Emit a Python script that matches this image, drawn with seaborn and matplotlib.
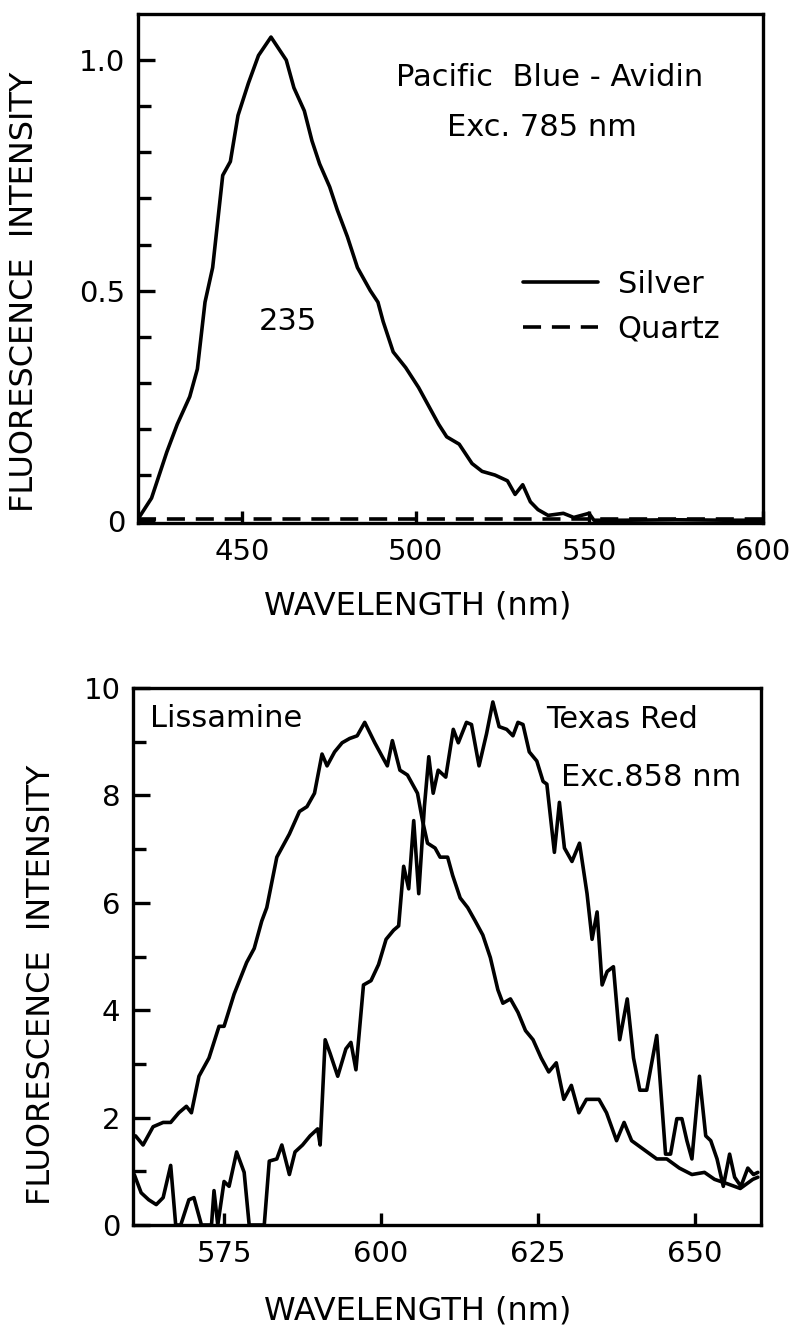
import numpy as np
import pandas as pd
import matplotlib
matplotlib.use("Agg")
import matplotlib.pyplot as plt
import seaborn as sns
from matplotlib.ticker import FixedLocator

# ---------------- data ----------------
pb_wavelength = [420.3, 423.9, 428.3, 431.3, 434.9, 437.1, 439.3, 441.5, 444.4, 446.6,
                 448.8, 451.8, 454.7, 458.3, 460.5, 462.7, 464.9, 467.9, 470.1, 472.3,
                 475.2, 477.4, 480.3, 483.2, 486.9, 489.1, 490.6, 493.5, 497.1, 500.8,
                 503.7, 506.6, 508.9, 512.5, 516.2, 519.1, 522.8, 526.4, 528.6, 530.8,
                 533.0, 535.2, 538.1, 542.5, 545.5, 549.9, 551.3, 560.0, 575.0, 590.0, 600.0]
pb_silver = [0.008, 0.05, 0.15, 0.21, 0.27, 0.33, 0.475, 0.55, 0.75, 0.78,
             0.88, 0.95, 1.01, 1.05, 1.025, 1.0, 0.94, 0.89, 0.825, 0.775,
             0.725, 0.675, 0.617, 0.55, 0.50, 0.475, 0.433, 0.367, 0.333, 0.29,
             0.25, 0.21, 0.183, 0.167, 0.125, 0.108, 0.10, 0.0875, 0.058, 0.079,
             0.042, 0.025, 0.0125, 0.017, 0.008, 0.017, 0.002, 0.002, 0.003, 0.002, 0.002]
quartz_wavelength = [420, 450, 500, 550, 600]
pb_quartz = [0.004, 0.004, 0.004, 0.004, 0.004]

liss_wavelength = [560.9, 562.1, 563.7, 565.3, 566.5, 567.8, 569.0, 569.8, 571.0, 572.6,
                   574.2, 575.0, 576.6, 578.6, 579.8, 581.0, 581.8, 583.4, 585.4, 587.0,
                   588.2, 589.4, 590.6, 591.4, 592.6, 593.8, 595.0, 596.2, 597.4, 599.0,
                   600.2, 601.0, 601.8, 603.0, 604.2, 605.0, 605.8, 606.6, 607.4, 608.6,
                   609.4, 610.6, 611.4, 612.6, 613.8, 615.0, 616.2, 617.4, 618.6, 619.4,
                   620.6, 621.8, 623.0, 624.2, 625.5, 626.7, 627.9, 629.1, 630.3, 631.5,
                   632.7, 634.7, 635.9, 637.5, 638.7, 639.9, 641.9, 643.9, 645.5, 647.5,
                   649.5, 651.5, 653.1, 655.1, 657.2, 659.2, 660.0]
liss_intensity = [1.66, 1.49, 1.83, 1.91, 1.91, 2.09, 2.21, 2.09, 2.77, 3.11,
                  3.70, 3.70, 4.30, 4.89, 5.15, 5.66, 5.91, 6.85, 7.28, 7.70,
                  7.79, 8.04, 8.77, 8.55, 8.81, 8.98, 9.06, 9.11, 9.36, 8.98,
                  8.72, 8.55, 9.02, 8.47, 8.38, 8.21, 8.04, 7.53, 7.11, 7.02,
                  6.85, 6.85, 6.51, 6.09, 5.91, 5.66, 5.40, 4.98, 4.38, 4.13,
                  4.21, 3.96, 3.62, 3.45, 3.11, 2.85, 3.02, 2.34, 2.60, 2.09,
                  2.34, 2.34, 2.09, 1.57, 1.91, 1.57, 1.40, 1.23, 1.23, 1.06,
                  0.94, 0.98, 0.85, 0.77, 0.68, 0.85, 0.89]

tr_wavelength = [560.7, 561.8, 563.0, 564.2, 565.3, 566.5, 567.3, 568.1, 569.4, 570.2,
                 571.4, 573.0, 573.4, 574.0, 575.0, 575.8, 577.0, 578.2, 579.0, 581.4,
                 582.2, 583.4, 584.2, 585.4, 586.3, 587.5, 588.7, 589.9, 590.3, 591.1,
                 591.9, 593.1, 594.4, 595.2, 596.0, 597.2, 598.4, 599.6, 600.8, 602.0,
                 602.8, 603.6, 604.4, 605.2, 606.0, 606.9, 607.6, 608.3, 609.1, 610.3,
                 611.5, 612.3, 613.6, 614.4, 615.6, 616.8, 617.8, 618.8, 620.0, 621.0,
                 621.8, 622.6, 623.6, 624.8, 625.8, 626.4, 627.6, 628.4, 629.2, 630.4,
                 631.6, 632.8, 633.6, 634.4, 635.2, 636.0, 637.0, 638.0, 639.2, 640.2,
                 641.2, 642.3, 643.9, 645.3, 646.1, 647.1, 647.9, 648.7, 649.5, 650.7,
                 651.7, 652.5, 653.5, 654.5, 655.5, 656.3, 657.3, 658.4, 659.3, 660.0]
tr_intensity = [0.94, 0.60, 0.47, 0.38, 0.51, 1.11, 0.0, 0.0, 0.47, 0.51,
                0.0, 0.0, 0.64, 0.0, 0.81, 0.72, 1.36, 0.98, 0.0, 0.0,
                1.19, 1.23, 1.49, 0.94, 1.36, 1.49, 1.66, 1.79, 1.49, 3.45,
                3.19, 2.77, 3.28, 3.40, 2.89, 4.47, 4.55, 4.85, 5.32, 5.49,
                5.57, 6.68, 6.26, 7.53, 6.17, 7.79, 8.72, 8.04, 8.47, 8.34,
                9.23, 8.98, 9.36, 9.32, 8.55, 9.15, 9.74, 9.28, 9.23, 9.11,
                9.36, 9.32, 8.81, 8.64, 8.26, 8.21, 6.94, 7.87, 7.02, 6.77,
                7.11, 6.17, 5.32, 5.83, 4.47, 4.72, 4.81, 3.45, 4.21, 3.11,
                2.51, 2.51, 3.53, 1.32, 1.32, 1.98, 1.98, 1.57, 1.23, 2.77,
                1.66, 1.57, 1.23, 0.72, 1.32, 0.89, 0.72, 1.06, 0.94, 0.98]

top_xticks = [450, 500, 550, 600]
top_yticks = [0, 0.5, 1.0]
top_yticklabels = ["0", "0.5", "1.0"]
bot_xticks = [575, 600, 625, 650]
bot_yticks = [0, 2, 4, 6, 8, 10]

# ---------------- figure ----------------
sns.set_theme(style="ticks")
plt.rcParams['font.family'] = ['DejaVu Sans']
plt.rcParams['axes.edgecolor'] = 'black'
plt.rcParams['axes.labelcolor'] = 'black'
plt.rcParams['text.color'] = 'black'
plt.rcParams['xtick.color'] = 'black'
plt.rcParams['ytick.color'] = 'black'

W, H = 796, 1336
fig = plt.figure(figsize=(W / 100, H / 100), dpi=100)

def fx(px):
    return px / W

def fy(py):
    return 1 - py / H

ax1 = fig.add_axes([fx(138), fy(523), (763 - 138) / W, (523 - 14) / H])
ax2 = fig.add_axes([fx(133), fy(1225), (761 - 133) / W, (1225 - 688) / H])

LW = 2.6
SLW = 2.4
df_silver = pd.DataFrame({"wl": pb_wavelength, "I": pb_silver})
df_quartz = pd.DataFrame({"wl": quartz_wavelength, "I": pb_quartz})
sns.lineplot(data=df_silver, x="wl", y="I", ax=ax1, color="black", lw=LW,
             estimator=None, label="Silver")
sns.lineplot(data=df_quartz, x="wl", y="I", ax=ax1, color="black", lw=LW,
             estimator=None, label="Quartz", linestyle=(0, (5, 3)))

df_liss = pd.DataFrame({"wl": liss_wavelength, "I": liss_intensity})
df_tr = pd.DataFrame({"wl": tr_wavelength, "I": tr_intensity})
sns.lineplot(data=df_liss, x="wl", y="I", ax=ax2, color="black", lw=LW, estimator=None)
sns.lineplot(data=df_tr, x="wl", y="I", ax=ax2, color="black", lw=LW, estimator=None)

for ax in (ax1, ax2):
    for s in ax.spines.values():
        s.set_linewidth(SLW)
        s.set_color("black")
    ax.tick_params(axis="both", which="both", direction="in", width=SLW,
                   top=False, right=False, labelsize=21)
    ax.tick_params(axis="y", which="major", length=12, pad=9)
    ax.tick_params(axis="y", which="minor", length=9)
    ax.tick_params(axis="x", which="major", length=9, pad=11)
    ax.grid(False)

ax1.set_xlim(420, 600)
ax1.set_ylim(-0.004, 1.1)
ax1.set_xticks(top_xticks)
ax1.set_yticks(top_yticks)
ax1.set_yticklabels(top_yticklabels)
ax1.yaxis.set_minor_locator(FixedLocator([0.1, 0.2, 0.3, 0.4, 0.6, 0.7, 0.8, 0.9]))

ax2.set_xlim(560.5, 660.5)
ax2.set_ylim(0, 10)
ax2.set_xticks(bot_xticks)
ax2.set_yticks(bot_yticks)
ax2.yaxis.set_minor_locator(FixedLocator([1, 3, 5, 7, 9]))

label_kw = dict(fontsize=23, color="black")
ax1.set_xlabel("WAVELENGTH (nm)", **label_kw)
ax1.set_ylabel("FLUORESCENCE  INTENSITY", **label_kw)
ax2.set_xlabel("WAVELENGTH (nm)", **label_kw)
ax2.set_ylabel("FLUORESCENCE  INTENSITY", **label_kw)
ax1.yaxis.set_label_coords((40 - 138) / 625, (523 - 292) / 509)
ax1.xaxis.set_label_coords((418 - 138) / 625, (523 - 590) / 509)
ax2.yaxis.set_label_coords((57 - 133) / 628, (1225 - 985) / 537)
ax2.xaxis.set_label_coords((418 - 133) / 628, (1225 - 1296) / 537)

leg = ax1.legend(frameon=False, fontsize=22, loc="upper left",
                 bbox_to_anchor=(fx(523), fy(270)), bbox_transform=fig.transFigure,
                 borderpad=0, borderaxespad=0, handlelength=2.45, handletextpad=0.65,
                 labelspacing=0.5)
for h in leg.get_lines():
    h.set_linewidth(LW)
for t in leg.get_texts():
    t.set_color("black")

tk = dict(fontsize=22, color="black")
fig.text(fx(550), fy(77), "Pacific  Blue - Avidin", ha="center", va="center", **tk)
fig.text(fx(542), fy(128), "Exc. 785 nm", ha="center", va="center", **tk)
fig.text(fx(288), fy(322), "235", ha="center", va="center", **tk)
fig.text(fx(150), fy(718), "Lissamine", ha="left", va="center", **tk)
fig.text(fx(546), fy(720), "Texas Red", ha="left", va="center", **tk)
fig.text(fx(561), fy(777), "Exc.858 nm", ha="left", va="center", **tk)

fig.savefig("out.png", dpi=100, facecolor="white")
